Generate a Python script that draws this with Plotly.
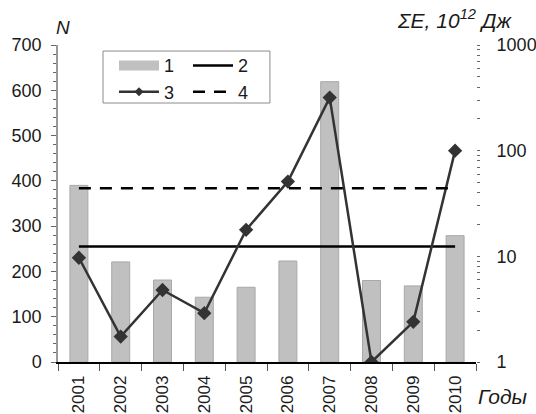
import plotly.graph_objects as go

# Annual series 2001-2010
years = ["2001", "2002", "2003", "2004", "2005", "2006", "2007", "2008", "2009", "2010"]
n_events = [390, 221, 181, 143, 165, 223, 619, 180, 168, 279]          # 1: number of events, N
sum_energy = [9.7, 1.74, 4.8, 2.9, 17.8, 51, 318, 1.0, 2.4, 100]       # 3: total energy, 10^12 J
mean_n = 255                                                           # 2: mean level of N
mean_energy = 44                                                       # 4: mean level of total energy

FONT = "Liberation Sans, Arial, sans-serif"
INK = "#1a1a1a"
BAR_FILL = "#c0c0c0"
LINE3 = "#333333"

fig = go.Figure()

fig.add_trace(go.Bar(
    x=years, y=n_events, name="1", yaxis="y", showlegend=False,
    width=0.43,
    marker=dict(color=BAR_FILL, line=dict(color="#a8a8a8", width=1)),
))
fig.add_trace(go.Scatter(
    x=[years[0], years[-1]], y=[mean_n, mean_n], name="2", yaxis="y",
    showlegend=False,
    mode="lines", line=dict(color="#000000", width=2.5),
))
fig.add_trace(go.Scatter(
    x=years, y=sum_energy, name="3", yaxis="y2", showlegend=False,
    mode="lines+markers",
    line=dict(color=LINE3, width=2.5),
    marker=dict(symbol="diamond", size=11, color=LINE3),
))
fig.add_trace(go.Scatter(
    x=[years[0], years[-1]], y=[mean_energy, mean_energy], name="4", yaxis="y2",
    showlegend=False,
    mode="lines", line=dict(color="#000000", width=2.5, dash="12px,9px"),
))

# Legend entries (two columns: 1/3 on the left, 2/4 on the right)
fig.add_trace(go.Scatter(
    x=[None], y=[None], name="1", mode="lines", legend="legend",
    line=dict(color=BAR_FILL, width=10),
))
fig.add_trace(go.Scatter(
    x=[None], y=[None], name="3", mode="lines+markers", legend="legend",
    line=dict(color=LINE3, width=2.5),
    marker=dict(symbol="diamond", size=7, color=LINE3),
))
fig.add_trace(go.Scatter(
    x=[None], y=[None], name="2", mode="lines", legend="legend2",
    line=dict(color="#000000", width=2.5),
))
fig.add_trace(go.Scatter(
    x=[None], y=[None], name="4", mode="lines", legend="legend2",
    line=dict(color="#000000", width=2.5, dash="12px,9px"),
))

legend_common = dict(
    orientation="v", yanchor="top", xanchor="left",
    itemwidth=40, bgcolor="rgba(0,0,0,0)", borderwidth=0,
    font=dict(family=FONT, size=18, color=INK), traceorder="normal",
    tracegroupgap=0,
)

fig.update_layout(
    width=536, height=414,
    margin=dict(l=58, r=60, t=45, b=52),
    paper_bgcolor="white", plot_bgcolor="white",
    font=dict(family=FONT, size=18, color=INK),
    showlegend=True,
    legend=dict(x=0.134, y=0.993, **legend_common),
    legend2=dict(x=0.311, y=0.993, **legend_common),
    bargap=0.57,
    xaxis=dict(
        type="category", range=[-0.5, 9.5], automargin=False,
        showline=True, linecolor="#000000", linewidth=1.5,
        ticks="outside", tickson="boundaries", ticklen=7, tickcolor="#555555",
        tickangle=-90, tickfont=dict(size=17), ticklabelstandoff=5,
        showgrid=False, zeroline=False,
    ),
    yaxis=dict(
        range=[0, 700], dtick=100, automargin=False,
        showline=True, linecolor="#999999", linewidth=1.5,
        ticks="outside", ticklen=5, tickcolor="#666666",
        minor=dict(ticks="outside", ticklen=3, dtick=20, tickcolor="#666666"),
        ticklabelstandoff=6,
        showgrid=False, zeroline=False,
    ),
    yaxis2=dict(
        type="log", range=[0, 3], overlaying="y", side="right", automargin=False,
        tickvals=[1, 10, 100, 1000], ticktext=["1", "10", "100", "1000"],
        showline=False, ticks="outside", ticklen=3, tickcolor="#666666",
        minor=dict(ticks="outside", ticklen=3, dtick="D1", tickcolor="#666666"),
        ticklabelstandoff=13,
        showgrid=False, zeroline=False,
    ),
    shapes=[
        # frame around the two legend columns
        dict(type="rect", xref="paper", yref="paper",
             x0=0.1077, x1=0.507, y0=0.817, y1=0.981,
             line=dict(color="#8c8c8c", width=1), fillcolor="white", layer="below"),
    ],
    annotations=[
        dict(text="<i>N</i>", xref="paper", yref="paper", x=0.0, y=1.0,
             xanchor="left", yanchor="bottom", xshift=-4, yshift=5,
             showarrow=False, font=dict(size=19, family=FONT, color=INK)),
        dict(text="<i>ΣE, 10<sup>12</sup> Дж</i>", xref="paper", yref="paper", x=1.0, y=1.0,
             xanchor="right", yanchor="bottom", xshift=39, yshift=11,
             showarrow=False, font=dict(size=21, family=FONT, color=INK)),
        dict(text="<i>Годы</i>", xref="paper", yref="paper", x=1.0, y=0.0,
             xanchor="left", yanchor="top", xshift=0, yshift=-21,
             showarrow=False, font=dict(size=21, family=FONT, color=INK)),
    ],
)

fig.write_html("out.html")
